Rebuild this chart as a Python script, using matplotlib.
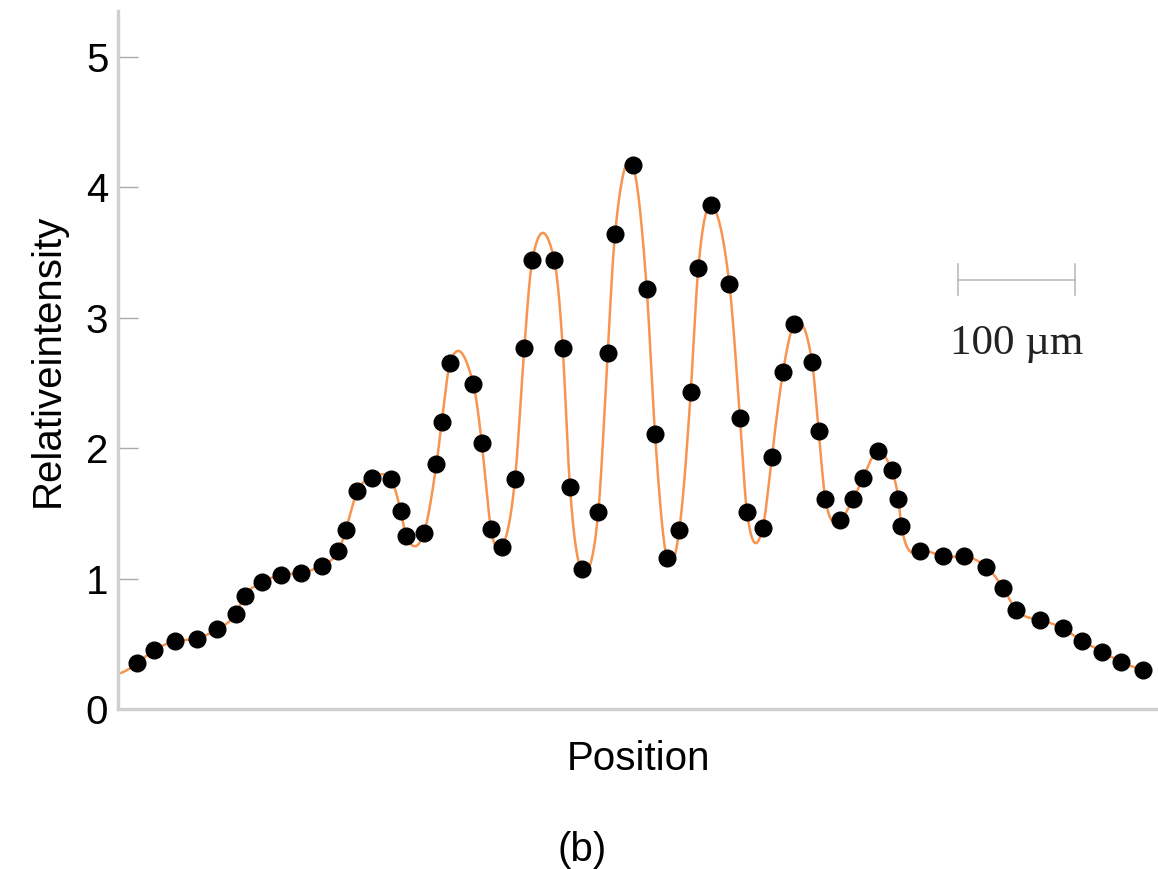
import numpy as np
import matplotlib
matplotlib.use("Agg")
import matplotlib.pyplot as plt

# measured profile (position in um, relative intensity)
position = [16.0, 31.0, 48.7, 67.3, 84.9, 100.6, 108.5, 122.8, 139.1, 156.2,
            174.4, 188.3, 194.6, 204.5, 217.1, 233.3, 241.6, 246.2, 261.5, 272.2,
            276.7, 283.8, 303.7, 310.9, 318.8, 328.0, 339.3, 347.3, 354.1, 372.9,
            380.1, 386.3, 396.3, 410.5, 418.5, 424.8, 439.9, 451.9, 459.0, 469.0,
            479.7, 489.5, 496.0, 506.8, 522.5, 531.6, 537.6, 551.1, 558.8, 568.3,
            578.0, 593.2, 598.9, 604.6, 617.5, 628.4, 636.7, 649.6, 661.3, 667.0,
            669.6, 685.3, 704.8, 723.4, 742.1, 756.3, 767.8, 788.4, 807.3, 824.2,
            841.4, 857.1, 876.0]
intensity = [0.35, 0.45, 0.52, 0.54, 0.61, 0.73, 0.87, 0.97, 1.03, 1.04,
             1.10, 1.21, 1.37, 1.67, 1.77, 1.76, 1.52, 1.33, 1.35, 1.88,
             2.20, 2.65, 2.49, 2.04, 1.38, 1.24, 1.76, 2.77, 3.44, 3.44,
             2.77, 1.70, 1.07, 1.51, 2.73, 3.64, 4.17, 3.22, 2.11, 1.16,
             1.37, 2.43, 3.38, 3.86, 3.26, 2.23, 1.51, 1.39, 1.93, 2.58,
             2.95, 2.66, 2.13, 1.61, 1.45, 1.61, 1.77, 1.98, 1.83, 1.61,
             1.40, 1.21, 1.17, 1.17, 1.09, 0.93, 0.76, 0.68, 0.62, 0.52,
             0.44, 0.36, 0.30]
y_ticks = [0, 1, 2, 3, 4, 5]
scale_len = 100  # um

SANS = ["Liberation Sans", "DejaVu Sans"]


def natural_spline(x, y, xs):
    n = len(x)
    h = np.diff(x)
    A = np.zeros((n, n))
    b = np.zeros(n)
    A[0, 0] = A[-1, -1] = 1
    for i in range(1, n - 1):
        A[i, i - 1] = h[i - 1]
        A[i, i] = 2 * (h[i - 1] + h[i])
        A[i, i + 1] = h[i]
        b[i] = 6 * ((y[i + 1] - y[i]) / h[i] - (y[i] - y[i - 1]) / h[i - 1])
    M = np.linalg.solve(A, b)
    k = np.clip(np.searchsorted(x, xs) - 1, 0, n - 2)
    t0 = xs - x[k]
    t1 = x[k + 1] - xs
    hk = h[k]
    return (M[k] * t1 ** 3 / (6 * hk) + M[k + 1] * t0 ** 3 / (6 * hk)
            + (y[k] / hk - M[k] * hk / 6) * t1
            + (y[k + 1] / hk - M[k + 1] * hk / 6) * t0)


def catmull_rom(x, y, xs):
    n = len(x)
    m = np.empty(n)
    m[1:-1] = (y[2:] - y[:-2]) / (x[2:] - x[:-2])
    m[0] = (y[1] - y[0]) / (x[1] - x[0])
    m[-1] = (y[-1] - y[-2]) / (x[-1] - x[-2])
    k = np.clip(np.searchsorted(x, xs) - 1, 0, n - 2)
    hk = x[k + 1] - x[k]
    t = (xs - x[k]) / hk
    h00 = 2 * t ** 3 - 3 * t ** 2 + 1
    h10 = t ** 3 - 2 * t ** 2 + t
    h01 = -2 * t ** 3 + 3 * t ** 2
    h11 = t ** 3 - t ** 2
    return h00 * y[k] + h10 * hk * m[k] + h01 * y[k + 1] + h11 * hk * m[k + 1]


px = np.array(position)
py = np.array(intensity)
xs = np.linspace(0, px[-1], 4000)
curve = 0.5 * (natural_spline(px, py, xs) + catmull_rom(px, py, xs))

fig = plt.figure(figsize=(11.58, 8.69), dpi=100)
ax = fig.add_axes([0.1019, 0.1841, 0.8981, 0.8032])

ax.plot(xs, curve, color="#f7944f", lw=1.8, zorder=2)
ax.plot(px, py, "o", color="black", ms=12, zorder=3)

ax.set_xlim(0, 888.9)
ax.set_ylim(0, 5.35)
ax.set_xticks([])
ax.set_yticks(y_ticks)
ax.tick_params(axis="y", direction="in", length=14.5, width=1, color="#aaaaaa",
               pad=7, labelsize=29)
for lab in ax.get_yticklabels():
    lab.set_fontfamily(SANS)
for s in ["top", "right"]:
    ax.spines[s].set_visible(False)
for s in ["left", "bottom"]:
    ax.spines[s].set_color("#cfcfcf")
    ax.spines[s].set_linewidth(2.4)

ax.set_ylabel("Relativeintensity", fontsize=29, family=SANS, labelpad=14)
ax.set_xlabel("Position", fontsize=29, family=SANS, labelpad=22)

# scale bar
x0 = 718
ax.plot([x0, x0 + scale_len], [3.29, 3.29], color="#b5b5b5", lw=1.1)
ax.plot([x0, x0], [3.17, 3.41], color="#b5b5b5", lw=1.1)
ax.plot([x0 + scale_len, x0 + scale_len], [3.17, 3.41], color="#b5b5b5", lw=1.1)
ax.text(x0 + scale_len / 2, 2.80, "100 µm", fontsize=31,
        family=["Liberation Serif", "DejaVu Serif"], ha="center", va="center",
        color="#222222")

fig.text(557 / 1158, 1 - 850 / 869, "(b)", fontsize=29, ha="left", va="center",
         family=SANS)

fig.savefig("out.png", dpi=100)
